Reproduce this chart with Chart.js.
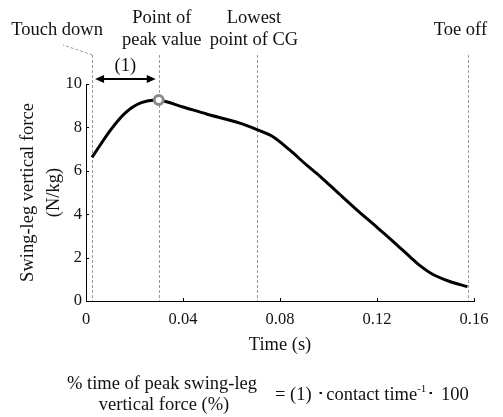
<!DOCTYPE html>
<html lang="en">
<head>
    <meta charset="UTF-8">
    <title>Swing-leg vertical force</title>
    <script src="https://cdn.jsdelivr.net/npm/chart.js"></script>
    <style>
        body { margin: 0; background: #fff; }
        #wrap { width: 503px; height: 417px; }
    </style>
</head>
<body>
<div id="wrap"><canvas id="chart" width="503" height="417"></canvas></div>
<script>
// curve
const timeS = [0.0025, 0.0098, 0.016, 0.0228, 0.030, 0.040, 0.0497, 0.0634, 0.0705, 0.0771, 0.0840, 0.0909, 0.0964, 0.1046, 0.1125, 0.1184, 0.1252, 0.1293, 0.1335, 0.1376, 0.1431, 0.1500, 0.1573];
const force = [6.62, 7.83, 8.65, 9.14, 9.26, 8.94, 8.62, 8.20, 7.90, 7.57, 6.96, 6.27, 5.76, 4.92, 4.12, 3.55, 2.89, 2.47, 2.05, 1.64, 1.22, 0.90, 0.66];
const peakTime = 0.030;
const peakForce = 9.26;

const xTicks = [0, 0.04, 0.08, 0.12, 0.16];
const yTicks = [0, 2, 4, 6, 8, 10];

// events: touch down, peak, lowest CG, toe off
const eventTimes = [0.0025, 0.030, 0.0705, 0.1577];
const eventLabels = [["Touch down"], ["Point of", "peak value"], ["Lowest", "point of CG"], ["Toe off"]];

const serif = '"Liberation Serif", "Times New Roman", serif';

const annot = {
    id: 'annot',
    beforeDatasetsDraw(chart) {
        const ctx = chart.ctx, xs = chart.scales.x, ys = chart.scales.y;
        ctx.save();
        ctx.strokeStyle = '#999';
        ctx.lineWidth = 1;
        ctx.setLineDash([3, 2]);
        eventTimes.forEach(t => {
            const px = Math.round(xs.getPixelForValue(t)) + 0.5;
            ctx.beginPath();
            ctx.moveTo(px, 55);
            ctx.lineTo(px, ys.bottom);
            ctx.stroke();
        });
        // leader to "Touch down"
        const td = Math.round(xs.getPixelForValue(eventTimes[0])) + 0.5;
        ctx.beginPath();
        ctx.moveTo(td, 55);
        ctx.lineTo(63, 45);
        ctx.stroke();
        ctx.restore();
    },
    afterDraw(chart) {
        const ctx = chart.ctx, xs = chart.scales.x, ys = chart.scales.y;
        ctx.save();
        // inward tick marks
        ctx.strokeStyle = '#000';
        ctx.lineWidth = 1;
        yTicks.forEach(v => {
            const py = Math.round(ys.getPixelForValue(v)) + 0.5;
            ctx.beginPath(); ctx.moveTo(xs.left, py); ctx.lineTo(xs.left + 3, py); ctx.stroke();
        });
        xTicks.slice(1).forEach(v => {
            const px = Math.round(xs.getPixelForValue(v)) + 0.5;
            ctx.beginPath(); ctx.moveTo(px, ys.bottom); ctx.lineTo(px, ys.bottom - 3); ctx.stroke();
        });

        // double arrow (1)
        const a0 = xs.getPixelForValue(eventTimes[0]) + 3;
        const a1 = xs.getPixelForValue(eventTimes[1]) - 3;
        const ay = 79;
        ctx.lineWidth = 2;
        ctx.beginPath(); ctx.moveTo(a0 + 6, ay); ctx.lineTo(a1 - 6, ay); ctx.stroke();
        ctx.fillStyle = '#000';
        ctx.beginPath(); ctx.moveTo(a0, ay); ctx.lineTo(a0 + 9, ay - 4); ctx.lineTo(a0 + 9, ay + 4); ctx.closePath(); ctx.fill();
        ctx.beginPath(); ctx.moveTo(a1, ay); ctx.lineTo(a1 - 9, ay - 4); ctx.lineTo(a1 - 9, ay + 4); ctx.closePath(); ctx.fill();

        ctx.font = '18.5px ' + serif;
        ctx.textBaseline = 'middle';
        ctx.textAlign = 'center';
        ctx.fillStyle = '#111';
        ctx.fillText('(1)', (a0 + a1) / 2, 66);

        // event labels
        const dx = [-35, 3, -3, -8];
        eventLabels.forEach((lines, i) => {
            const px = xs.getPixelForValue(eventTimes[i]) + dx[i];
            if (lines.length === 1) {
                ctx.fillText(lines[0], px, 30);
            } else {
                ctx.fillText(lines[0], px, 18);
                ctx.fillText(lines[1], px, 40);
            }
        });

        // formula below the chart
        ctx.fillText('% time of peak swing-leg', 162, 384);
        ctx.fillText('vertical force (%)', 164, 405);
        ctx.textAlign = 'left';
        let fx = 275;
        const fy = 395;
        const piece = (s, y, font) => {
            ctx.font = font;
            ctx.fillText(s, fx, y);
            fx += ctx.measureText(s).width;
        };
        const f = '18.5px ' + serif;
        piece('= (1) ', fy, f);
        piece('\uFF65', fy, f);
        piece('contact time', fy, f);
        piece('-1', fy - 6, '11px ' + serif);
        piece('\uFF65', fy, f);
        piece(' 100', fy, f);
        ctx.restore();
    }
};

new Chart(document.getElementById('chart').getContext('2d'), {
    type: 'line',
    data: {
        datasets: [
            {
                label: 'peak',
                data: [{ x: peakTime, y: peakForce }],
                showLine: false,
                pointRadius: 4.5,
                pointBorderWidth: 3,
                pointBorderColor: '#8a8a8a',
                pointBackgroundColor: '#fff',
                order: 0
            },
            {
                label: 'force',
                data: timeS.map((t, i) => ({ x: t, y: force[i] })),
                borderColor: '#000',
                borderWidth: 3,
                pointRadius: 0,
                tension: 0.3,
                order: 1
            }
        ]
    },
    options: {
        responsive: false,
        animation: false,
        events: [],
        layout: { padding: { left: 0, right: 29, top: 84, bottom: 56 } },
        plugins: { legend: { display: false }, tooltip: { enabled: false } },
        scales: {
            x: {
                type: 'linear',
                min: 0, max: 0.16,
                afterBuildTicks: s => { s.ticks = xTicks.map(v => ({ value: v })); },
                afterFit: s => { s.height = 60; },
                grid: { display: true, drawOnChartArea: false, drawTicks: false },
                border: { display: true, color: '#000', width: 1 },
                ticks: {
                    color: '#111', padding: 9,
                    font: { family: serif, size: 16.5 },
                    callback: v => v === 0 ? '0' : v.toFixed(2)
                },
                title: {
                    display: true, text: 'Time (s)', color: '#111',
                    font: { family: serif, size: 18.5, lineHeight: 1.2 },
                    padding: { top: 0, bottom: 5 }
                }
            },
            y: {
                min: 0, max: 10,
                afterBuildTicks: s => { s.ticks = yTicks.map(v => ({ value: v })); },
                afterFit: s => { s.width = 86; },
                grid: { display: true, drawOnChartArea: false, drawTicks: false },
                border: { display: true, color: '#000', width: 1 },
                ticks: {
                    color: '#111', padding: 4,
                    font: { family: serif, size: 16.5 }
                },
                title: {
                    display: true, text: ['Swing-leg vertical force', '(N/kg)'], color: '#111',
                    font: { family: serif, size: 18.5, lineHeight: 1.4 },
                    padding: { top: 15, bottom: 0 }
                }
            }
        }
    },
    plugins: [annot]
});
</script>
</body>
</html>
